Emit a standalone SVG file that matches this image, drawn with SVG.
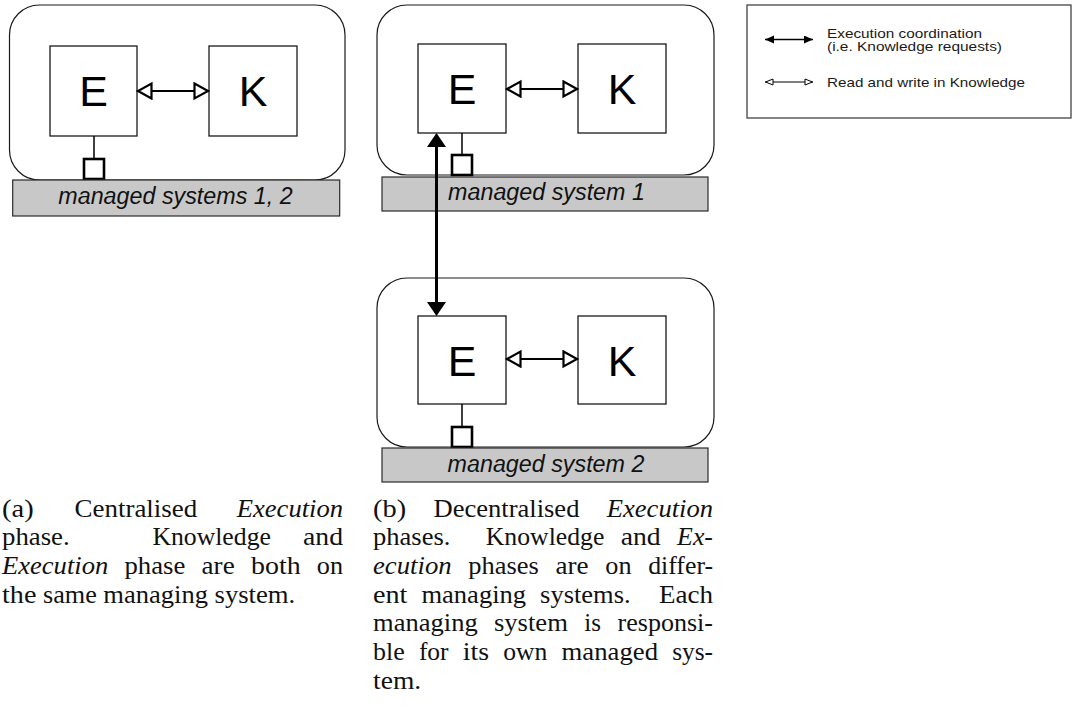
<svg xmlns="http://www.w3.org/2000/svg" width="1073" height="713" viewBox="0 0 1073 713">
  <style>
    .frame { fill: #ffffff; stroke: #1a1a1a; stroke-width: 1.2; }
    .box { fill: #ffffff; stroke: #1a1a1a; stroke-width: 1.3; }
    .letter { font-family: "Liberation Sans", Arial, sans-serif; font-size: 43px; fill: #000; text-anchor: middle; }
    .bar { fill: #c8c8c8; stroke: #2a2a2a; stroke-width: 1.2; }
    .barlabel { font-family: "Liberation Sans", Arial, sans-serif; font-style: italic; font-size: 23.3px; fill: #111; text-anchor: middle; }
    .stem { stroke: #000; stroke-width: 1.5; }
    .port { fill: #ffffff; stroke: #000; stroke-width: 2.6; }
    .rw { stroke: #000; stroke-width: 2.2; fill: none; marker-start: url(#openHead); marker-end: url(#openHead); }
    .coord { stroke: #000; stroke-width: 3; fill: none; marker-start: url(#fullHead); marker-end: url(#fullHead); }
    .legendbox { fill: #ffffff; stroke: #444; stroke-width: 1.3; }
    .legendtext { font-family: "Liberation Sans", Arial, sans-serif; font-size: 13.5px; fill: #1a1a1a; }
    .cap text { font-family: "Liberation Serif", "Times New Roman", serif; font-size: 24.8px; fill: #111; }
    .cap text.it { font-style: italic; }
  </style>
  <defs>
    <!-- hollow triangle head for read/write links -->
    <marker id="openHead" markerUnits="userSpaceOnUse" viewBox="0 0 20 20" markerWidth="20" markerHeight="20" refX="16.5" refY="9" orient="auto-start-reverse">
      <path d="M2,1.5 L15.5,9 L2,16.5 Z" fill="#ffffff" stroke="#000" stroke-width="2.2" stroke-linejoin="miter"/>
    </marker>
    <!-- solid triangle head for coordination links -->
    <marker id="fullHead" markerUnits="userSpaceOnUse" viewBox="0 0 20 20" markerWidth="20" markerHeight="20" refX="4" refY="9.5" orient="auto-start-reverse">
      <path d="M0,0 L14,9.5 L0,19 Z" fill="#000"/>
    </marker>
    <!-- small heads for the legend -->
    <marker id="legendFull" markerUnits="userSpaceOnUse" viewBox="0 0 12 10" markerWidth="12" markerHeight="10" refX="9" refY="4" orient="auto-start-reverse">
      <path d="M0,0 L9,4 L0,8 Z" fill="#000"/>
    </marker>
    <marker id="legendOpen" markerUnits="userSpaceOnUse" viewBox="0 0 12 10" markerWidth="12" markerHeight="10" refX="9" refY="4" orient="auto-start-reverse">
      <path d="M1,1 L8.5,4 L1,7 Z" fill="#fff" stroke="#000" stroke-width="1"/>
    </marker>
  </defs>

  <!-- (a) single managing system -->
  <g id="panel-a">
    <rect class="frame" x="9.5" y="5" width="335.5" height="175" rx="30" ry="30"/>
    <g id="a-E">
      <rect class="box" x="50" y="46" width="87" height="90"/>
      <text class="letter" x="93.5" y="106">E</text>
    </g>
    <g id="a-K">
      <rect class="box" x="209" y="46" width="88" height="90"/>
      <text class="letter" x="253" y="106">K</text>
    </g>
    <line class="stem" x1="94" y1="136" x2="94" y2="159"/>
    <rect class="port" x="84" y="159" width="20" height="20"/>
  </g>
  <g id="a-managed">
    <rect class="bar" x="12.7" y="180" width="327" height="36"/>
    <text class="barlabel" x="175.5" y="204">managed systems 1, 2</text>
  </g>

  <!-- (b) first managing system -->
  <g id="panel-b1">
    <rect class="frame" x="377" y="5" width="337" height="170" rx="30" ry="30"/>
    <g id="b1-E">
      <rect class="box" x="418" y="44" width="88" height="89"/>
      <text class="letter" x="462" y="104">E</text>
    </g>
    <g id="b1-K">
      <rect class="box" x="578" y="44" width="88" height="89"/>
      <text class="letter" x="622" y="104">K</text>
    </g>
    <line class="stem" x1="462" y1="133" x2="462" y2="155"/>
    <rect class="port" x="452" y="155" width="20" height="20"/>
  </g>
  <g id="b1-managed">
    <rect class="bar" x="382" y="177" width="326" height="34"/>
    <text class="barlabel" x="546.5" y="200">managed system 1</text>
  </g>

  <!-- (b) second managing system -->
  <g id="panel-b2">
    <rect class="frame" x="377" y="278" width="337" height="169" rx="30" ry="30"/>
    <g id="b2-E">
      <rect class="box" x="418" y="316" width="88" height="88"/>
      <text class="letter" x="462" y="376">E</text>
    </g>
    <g id="b2-K">
      <rect class="box" x="578" y="316" width="88" height="88"/>
      <text class="letter" x="622" y="376">K</text>
    </g>
    <line class="stem" x1="462" y1="404" x2="462" y2="427"/>
    <rect class="port" x="452" y="427" width="20" height="20"/>
  </g>
  <g id="b2-managed">
    <rect class="bar" x="382" y="448" width="326" height="34"/>
    <text class="barlabel" x="546" y="472">managed system 2</text>
  </g>

  <!-- links -->
  <g id="connectors">
    <line class="rw" x1="137" y1="91" x2="209" y2="91"/>
    <line class="rw" x1="506" y1="89" x2="578" y2="89"/>
    <line class="rw" x1="506" y1="359" x2="578" y2="359"/>
    <line class="coord" x1="436.5" y1="143" x2="436.5" y2="306"/>
  </g>

  <!-- legend -->
  <g id="legend">
    <rect class="legendbox" x="747" y="5" width="324" height="113"/>
    <line x1="765" y1="39.5" x2="813" y2="39.5" stroke="#000" stroke-width="1.5" marker-start="url(#legendFull)" marker-end="url(#legendFull)"/>
    <text class="legendtext" x="827" y="37.5" textLength="155" lengthAdjust="spacingAndGlyphs">Execution coordination</text>
    <text class="legendtext" x="827" y="50.5" textLength="175" lengthAdjust="spacingAndGlyphs">(i.e. Knowledge requests)</text>
    <line x1="765" y1="82" x2="813" y2="82" stroke="#000" stroke-width="1.2" marker-start="url(#legendOpen)" marker-end="url(#legendOpen)"/>
    <text class="legendtext" x="827" y="87" textLength="198" lengthAdjust="spacingAndGlyphs">Read and write in Knowledge</text>
  </g>

  <!-- caption (a): justified, one text per word -->
  <g id="caption-a" class="cap">
    <text x="2" y="516.5" textLength="31.7" lengthAdjust="spacingAndGlyphs">(a)</text>
    <text x="74.5" y="516.5" textLength="122.8" lengthAdjust="spacingAndGlyphs">Centralised</text>
    <text class="it" x="236.8" y="516.5" textLength="106.2" lengthAdjust="spacingAndGlyphs">Execution</text>

    <text x="2" y="545.2" textLength="67.7" lengthAdjust="spacingAndGlyphs">phase.</text>
    <text x="152.4" y="545.2" textLength="118.5" lengthAdjust="spacingAndGlyphs">Knowledge</text>
    <text x="303" y="545.2" textLength="40" lengthAdjust="spacingAndGlyphs">and</text>

    <text class="it" x="2" y="573.9" textLength="106.2" lengthAdjust="spacingAndGlyphs">Execution</text>
    <text x="124.5" y="573.9" textLength="60.8" lengthAdjust="spacingAndGlyphs">phase</text>
    <text x="201.6" y="573.9" textLength="33.1" lengthAdjust="spacingAndGlyphs">are</text>
    <text x="251" y="573.9" textLength="49.6" lengthAdjust="spacingAndGlyphs">both</text>
    <text x="316.8" y="573.9" textLength="26.2" lengthAdjust="spacingAndGlyphs">on</text>

    <text x="2" y="602.6" textLength="34.4" lengthAdjust="spacingAndGlyphs">the</text>
    <text x="43" y="602.6" textLength="53.8" lengthAdjust="spacingAndGlyphs">same</text>
    <text x="103.3" y="602.6" textLength="104.7" lengthAdjust="spacingAndGlyphs">managing</text>
    <text x="214.5" y="602.6" textLength="80.8" lengthAdjust="spacingAndGlyphs">system.</text>
  </g>

  <!-- caption (b): justified, one text per word -->
  <g id="caption-b" class="cap">
    <text x="373" y="516.5" textLength="33.1" lengthAdjust="spacingAndGlyphs">(b)</text>
    <text x="433.5" y="516.5" textLength="145.9" lengthAdjust="spacingAndGlyphs">Decentralised</text>
    <text class="it" x="606.8" y="516.5" textLength="106.2" lengthAdjust="spacingAndGlyphs">Execution</text>

    <text x="373" y="545.2" textLength="77.4" lengthAdjust="spacingAndGlyphs">phases.</text>
    <text x="485.8" y="545.2" textLength="118.5" lengthAdjust="spacingAndGlyphs">Knowledge</text>
    <text x="620.7" y="545.2" textLength="40" lengthAdjust="spacingAndGlyphs">and</text>
    <text class="it" x="677.1" y="545.2" textLength="35.9" lengthAdjust="spacingAndGlyphs">Ex-</text>

    <text class="it" x="373" y="573.9" textLength="78.6" lengthAdjust="spacingAndGlyphs">ecution</text>
    <text x="468.3" y="573.9" textLength="70.5" lengthAdjust="spacingAndGlyphs">phases</text>
    <text x="555.5" y="573.9" textLength="33.1" lengthAdjust="spacingAndGlyphs">are</text>
    <text x="605.3" y="573.9" textLength="26.2" lengthAdjust="spacingAndGlyphs">on</text>
    <text x="648.2" y="573.9" textLength="64.9" lengthAdjust="spacingAndGlyphs">differ-</text>

    <text x="373" y="602.6" textLength="34.4" lengthAdjust="spacingAndGlyphs">ent</text>
    <text x="421.4" y="602.6" textLength="104.7" lengthAdjust="spacingAndGlyphs">managing</text>
    <text x="540.1" y="602.6" textLength="90.6" lengthAdjust="spacingAndGlyphs">systems.</text>
    <text x="658.9" y="602.6" textLength="54.1" lengthAdjust="spacingAndGlyphs">Each</text>

    <text x="373" y="631.3" textLength="104.7" lengthAdjust="spacingAndGlyphs">managing</text>
    <text x="493.9" y="631.3" textLength="74" lengthAdjust="spacingAndGlyphs">system</text>
    <text x="584.3" y="631.3" textLength="16.7" lengthAdjust="spacingAndGlyphs">is</text>
    <text x="617.6" y="631.3" textLength="95.4" lengthAdjust="spacingAndGlyphs">responsi-</text>

    <text x="373" y="660" textLength="31.7" lengthAdjust="spacingAndGlyphs">ble</text>
    <text x="418.9" y="660" textLength="29.7" lengthAdjust="spacingAndGlyphs">for</text>
    <text x="462.8" y="660" textLength="26.3" lengthAdjust="spacingAndGlyphs">its</text>
    <text x="503.3" y="660" textLength="44.1" lengthAdjust="spacingAndGlyphs">own</text>
    <text x="561.6" y="660" textLength="96.4" lengthAdjust="spacingAndGlyphs">managed</text>
    <text x="672.2" y="660" textLength="40.9" lengthAdjust="spacingAndGlyphs">sys-</text>

    <text x="373" y="688.7" textLength="48.2" lengthAdjust="spacingAndGlyphs">tem.</text>
  </g>
</svg>
